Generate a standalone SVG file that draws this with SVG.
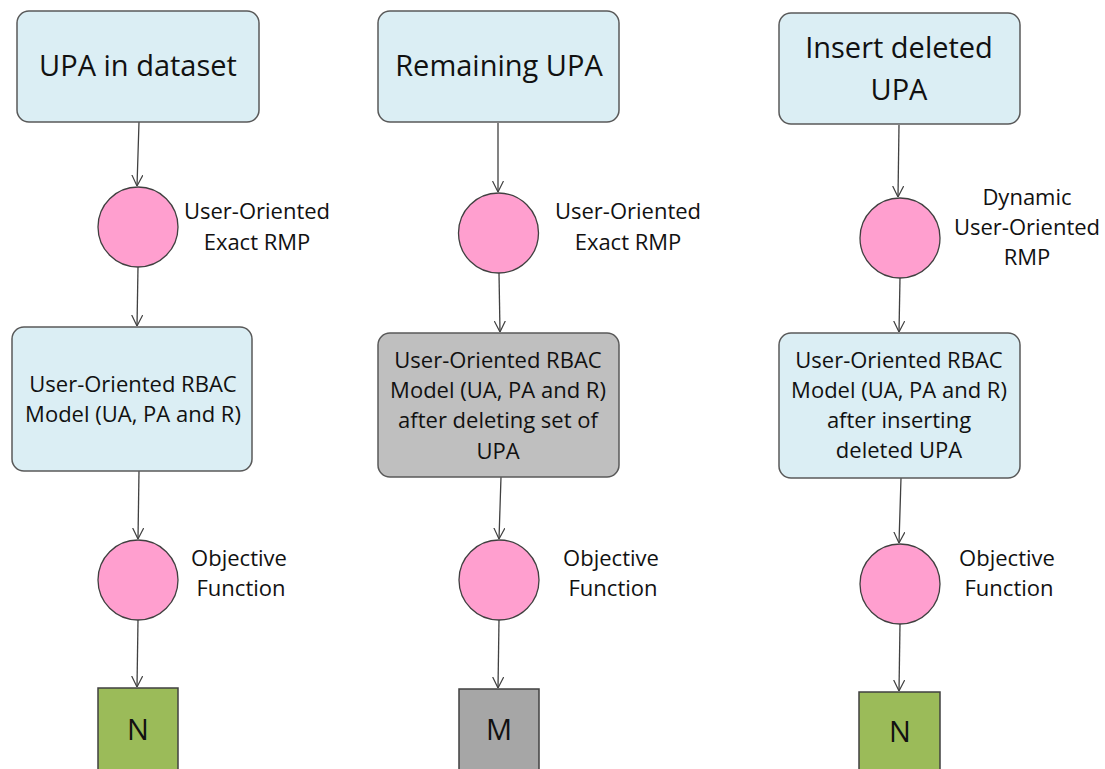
<svg xmlns="http://www.w3.org/2000/svg" width="1105" height="769" viewBox="0 0 1105 769">
  <style>
    .box { fill: #dbeef4; stroke: #595959; stroke-width: 1.5; }
    .box.grey { fill: #bfbfbf; }
    .proc { fill: #ff9fcf; stroke: #404040; stroke-width: 1.3; }
    .res { stroke: #404040; stroke-width: 1.5; }
    .res.n { fill: #9bbb59; }
    .res.m { fill: #a6a6a6; }
    text { font-family: "Open Sans", "Liberation Sans", sans-serif; fill: #111; text-anchor: middle; }
    .title { font-size: 29px; }
    .body { font-size: 22px; }
    .res-label { font-size: 29px; }
    .edge { fill: none; stroke: #404040; stroke-width: 1.3; marker-end: url(#arrow); }
  </style>
  <defs>
    <marker id="arrow" viewBox="0 0 12 12" refX="12" refY="6" markerWidth="11" markerHeight="12" markerUnits="userSpaceOnUse" orient="auto">
      <path d="M0,0 L12,6 L0,12" fill="none" stroke="#404040" stroke-width="1.3"/>
    </marker>
  </defs>
  <rect width="1105" height="769" fill="#ffffff"/>

  <!-- connectors -->
  <g id="connectors">
    <line class="edge" x1="139" y1="122" x2="137" y2="186"/>
    <line class="edge" x1="138" y1="267" x2="137" y2="326"/>
    <line class="edge" x1="139" y1="471" x2="138" y2="539"/>
    <line class="edge" x1="138" y1="620" x2="137" y2="687"/>

    <line class="edge" x1="498" y1="123" x2="498" y2="192"/>
    <line class="edge" x1="499" y1="273" x2="500" y2="332"/>
    <line class="edge" x1="501" y1="477" x2="499" y2="539"/>
    <line class="edge" x1="499" y1="620" x2="498" y2="688"/>

    <line class="edge" x1="899" y1="125" x2="898" y2="197"/>
    <line class="edge" x1="900" y1="278" x2="899" y2="332"/>
    <line class="edge" x1="901" y1="478" x2="899" y2="543"/>
    <line class="edge" x1="900" y1="624" x2="899" y2="691"/>
  </g>

  <!-- column 1 -->
  <g id="upa-dataset">
    <rect class="box" x="17" y="11" width="242" height="111" rx="12"/>
    <text class="title" x="138" y="76">UPA in dataset</text>
  </g>
  <g id="exact-rmp-1">
    <circle class="proc" cx="138" cy="227" r="40"/>
    <text class="body" x="257" y="219">User-Oriented</text>
    <text class="body" x="257" y="250">Exact RMP</text>
  </g>
  <g id="rbac-model-1">
    <rect class="box" x="12" y="327" width="240" height="144" rx="12"/>
    <text class="body" x="133" y="392">User-Oriented RBAC</text>
    <text class="body" x="133" y="422">Model (UA, PA and R)</text>
  </g>
  <g id="objective-1">
    <circle class="proc" cx="138" cy="580" r="40"/>
    <text class="body" x="239" y="566">Objective</text>
    <text class="body" x="241" y="596">Function</text>
  </g>
  <g id="result-n-1">
    <rect class="res n" x="98" y="688" width="80" height="82"/>
    <text class="res-label" x="138" y="740">N</text>
  </g>

  <!-- column 2 -->
  <g id="remaining-upa">
    <rect class="box" x="378" y="11" width="241" height="111" rx="12"/>
    <text class="title" x="499" y="76">Remaining UPA</text>
  </g>
  <g id="exact-rmp-2">
    <circle class="proc" cx="498.5" cy="233" r="40"/>
    <text class="body" x="628" y="219">User-Oriented</text>
    <text class="body" x="628" y="250">Exact RMP</text>
  </g>
  <g id="rbac-model-2">
    <rect class="box grey" x="378" y="333" width="241" height="144" rx="12"/>
    <text class="body" x="498" y="368">User-Oriented RBAC</text>
    <text class="body" x="498" y="398">Model (UA, PA and R)</text>
    <text class="body" x="498" y="428">after deleting set of</text>
    <text class="body" x="498" y="459">UPA</text>
  </g>
  <g id="objective-2">
    <circle class="proc" cx="499" cy="580" r="40"/>
    <text class="body" x="611" y="566">Objective</text>
    <text class="body" x="613" y="596">Function</text>
  </g>
  <g id="result-m">
    <rect class="res m" x="459" y="689" width="80" height="82"/>
    <text class="res-label" x="499" y="740">M</text>
  </g>

  <!-- column 3 -->
  <g id="insert-deleted">
    <rect class="box" x="779" y="13" width="241" height="111" rx="12"/>
    <text class="title" x="899" y="58">Insert deleted</text>
    <text class="title" x="899" y="100">UPA</text>
  </g>
  <g id="dynamic-rmp">
    <circle class="proc" cx="900" cy="238" r="40"/>
    <text class="body" x="1027" y="205">Dynamic</text>
    <text class="body" x="1027" y="235">User-Oriented</text>
    <text class="body" x="1027" y="265">RMP</text>
  </g>
  <g id="rbac-model-3">
    <rect class="box" x="779" y="333" width="241" height="145" rx="12"/>
    <text class="body" x="899" y="368">User-Oriented RBAC</text>
    <text class="body" x="899" y="398">Model (UA, PA and R)</text>
    <text class="body" x="899" y="428">after inserting</text>
    <text class="body" x="899" y="458">deleted UPA</text>
  </g>
  <g id="objective-3">
    <circle class="proc" cx="900" cy="584" r="40"/>
    <text class="body" x="1007" y="566">Objective</text>
    <text class="body" x="1009" y="596">Function</text>
  </g>
  <g id="result-n-3">
    <rect class="res n" x="859" y="692" width="81" height="80"/>
    <text class="res-label" x="900" y="742">N</text>
  </g>
</svg>
